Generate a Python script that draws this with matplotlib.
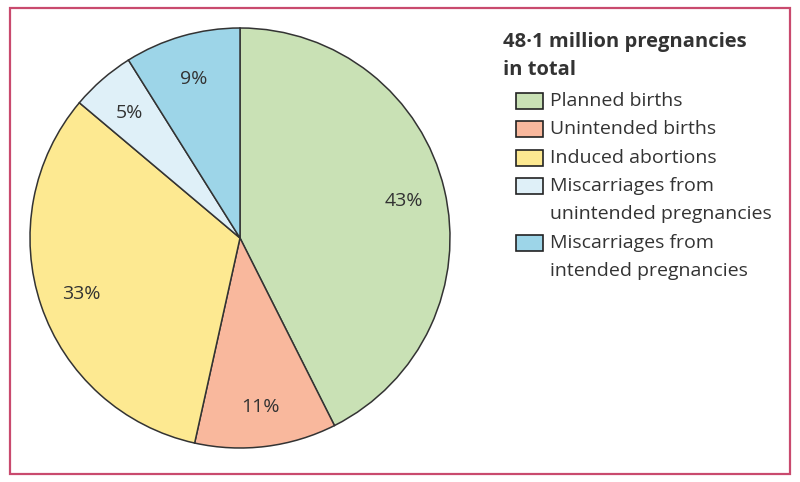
import matplotlib
matplotlib.use('Agg')
from matplotlib import pyplot as plt
from matplotlib.patches import Rectangle

# data
categories = ['Planned births', 'Unintended births', 'Induced abortions',
              'Miscarriages from\nunintended pregnancies',
              'Miscarriages from\nintended pregnancies']
shares = [43, 11, 33, 5, 9]
pct_labels = ['43%', '11%', '33%', '5%', '9%']
colors = ['#c9e1b5', '#f9b89d', '#fde991', '#dff0f8', '#9dd5e8']
title = '48·1 million pregnancies\nin total'

plt.rcParams['font.family'] = ['Open Sans', 'DejaVu Sans']
txt_col = '#333333'

W, H = 800, 482
fig = plt.figure(figsize=(W / 100, H / 100), dpi=100)

# frame round the whole figure
fig.patches.append(Rectangle((10 / W, (H - 474) / H), 780 / W, 466 / H,
                             transform=fig.transFigure, fill=False,
                             edgecolor='#c94a6e', linewidth=1.6))

# pie, centre (240, 238) px, radius 210 px
cx, cy, r = 240, 238, 210
ax = fig.add_axes([(cx - r) / W, (H - cy - r) / H, 2 * r / W, 2 * r / H])
wedges, texts = ax.pie(shares, colors=colors, startangle=90, counterclock=False,
                       labels=pct_labels, labeldistance=0.8,
                       wedgeprops=dict(edgecolor='#333333', linewidth=1.1),
                       textprops=dict(fontsize=14, color=txt_col))
for t in texts:
    t.set_ha('center')
    t.set_va('center_baseline')
ax.set_xlim(-1, 1)
ax.set_ylim(-1, 1)
ax.set_aspect('equal')
ax.axis('off')

# legend drawn by hand, one text per line
step = 28.3
y = 42
for line in title.split('\n'):
    fig.text(503 / W, 1 - y / H, line, fontsize=14.5, fontweight='bold',
             color=txt_col, va='center', ha='left')
    y += step

y = 101
for cat, col in zip(categories, colors):
    fig.patches.append(Rectangle((516 / W, 1 - (y + 8) / H), 27 / W, 16 / H,
                                 transform=fig.transFigure, facecolor=col,
                                 edgecolor='#222222', linewidth=1.2))
    for line in cat.split('\n'):
        fig.text(550 / W, 1 - y / H, line, fontsize=14, color=txt_col,
                 va='center', ha='left')
        y += step

fig.savefig('out.png', dpi=100, facecolor='white')
